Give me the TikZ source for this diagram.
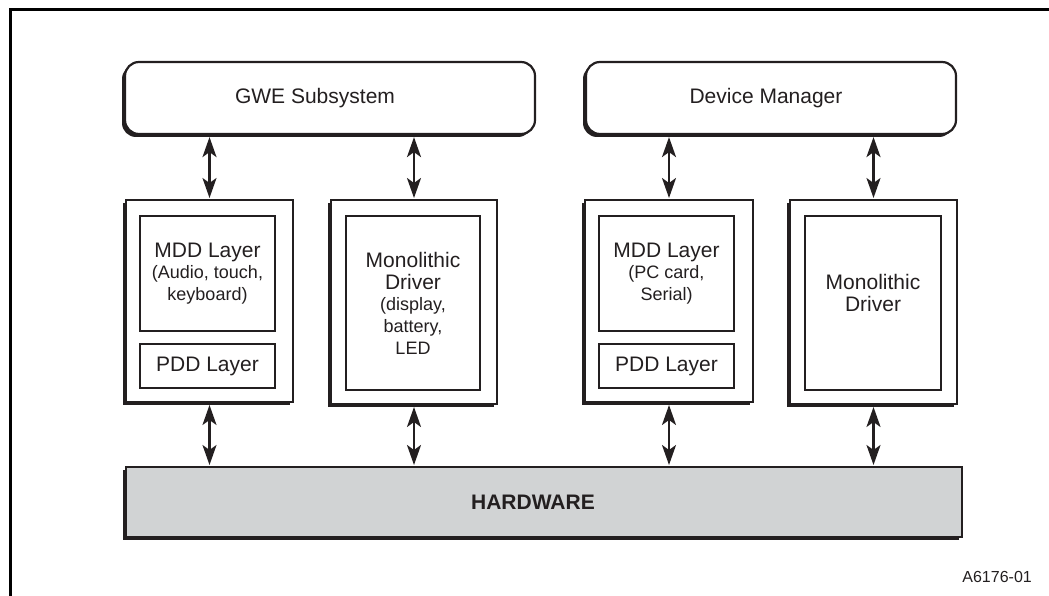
\documentclass[tikz,border=0pt]{standalone}
\usepackage{fontspec}
\setmainfont{Liberation Sans}
\usetikzlibrary{shadows,arrows.meta,calc}
\definecolor{ink}{HTML}{231F20}
\definecolor{hw}{HTML}{D1D3D4}
\tikzset{
  shd/.style={drop shadow={shadow xshift=-3pt,shadow yshift=-3pt,fill=ink,opacity=1}},
  topbox/.style={draw=ink,line width=2.2pt,rounded corners=14pt,fill=white,shd,
     font=\fontsize{21}{24}\selectfont,text=ink},
  drvbox/.style={draw=ink,line width=2pt,fill=white,shd},
  inbox/.style={draw=ink,line width=1.1pt,fill=white,align=center,text=ink,
     font=\fontsize{21}{22}\selectfont},
  hwbox/.style={draw=ink,line width=2pt,fill=hw,shd,text=ink,
     font=\fontsize{21}{24}\selectfont\bfseries},
  link/.style={{Stealth[length=20pt,width=14pt,inset=5pt]}-{Stealth[length=20pt,width=14pt,inset=5pt]},line width=2.2pt,draw=ink,shorten <=2pt,shorten >=1pt}
}
\newcommand{\smtext}{\fontsize{18}{21}\selectfont}
\begin{document}
\begin{tikzpicture}[x=1pt,y=-1pt]
\useasboundingbox (0,0) rectangle (1049,596);
% frame
\coordinate (fa) at (10,596);
\coordinate (fb) at (10,10);
\coordinate (fc) at (1049,10);
\draw[line width=3pt,black] (fa) -- (fb) -- (fc);
% top boxes
\node[topbox,minimum width=410pt,minimum height=72pt] (gwe) at (330,98) {\hspace*{-30pt}GWE Subsystem};
\node[topbox,minimum width=370pt,minimum height=72pt] (dm) at (771,98) {\hspace*{-10pt}Device Manager};
% driver boxes
\node[drvbox,minimum width=167pt,minimum height=202pt] (d1) at (209.5,301) {};
\node[drvbox,minimum width=166pt,minimum height=204pt] (d2) at (414,302) {};
\node[drvbox,minimum width=168pt,minimum height=202pt] (d3) at (669,301) {};
\node[drvbox,minimum width=167pt,minimum height=204pt] (d4) at (873.5,302) {};
% inner boxes
\node[inbox,minimum width=135pt,minimum height=115pt] (m1) at (207.5,273.5)
  {MDD Layer\\[-1pt]{\smtext (Audio, touch,}\\{\smtext keyboard)}};
\node[inbox,minimum width=135pt,minimum height=44pt] (p1) at (207.5,366) {PDD Layer};
\node[inbox,minimum width=134pt,minimum height=174pt] (m2) at (413,303)
  {Monolithic\\Driver\\[-1pt]{\smtext (display,}\\{\smtext battery,}\\{\smtext LED}};
\node[inbox,minimum width=135pt,minimum height=115pt] (m3) at (666.5,273.5)
  {MDD Layer\\[-1pt]{\smtext (PC card,}\\{\smtext Serial)}};
\node[inbox,minimum width=135pt,minimum height=44pt] (p3) at (666.5,366) {PDD Layer};
\node[inbox,minimum width=136pt,minimum height=174pt] (m4) at (873,303)
  {Monolithic\\Driver\\[-2pt]\mbox{}};
% hardware
\node[hwbox,minimum width=836pt,minimum height=70pt] (hw) at (544,502) {\hspace*{-22pt}HARDWARE};
% label
\node[anchor=base east,text=ink,font=\fontsize{16}{18}\selectfont,inner sep=0pt] (lab) at (1032,582) {A6176-01};
% connectors
\draw[link] (d1.north |- gwe.south) -- (d1.north);
\draw[link] (d2.north |- gwe.south) -- (d2.north);
\draw[link] (d3.north |- dm.south) -- (d3.north);
\draw[link] (d4.north |- dm.south) -- (d4.north);
\draw[link] (d1.south) -- (d1.south |- hw.north);
\draw[link] (d2.south) -- (d2.south |- hw.north);
\draw[link] (d3.south) -- (d3.south |- hw.north);
\draw[link] (d4.south) -- (d4.south |- hw.north);
\end{tikzpicture}
\end{document}
